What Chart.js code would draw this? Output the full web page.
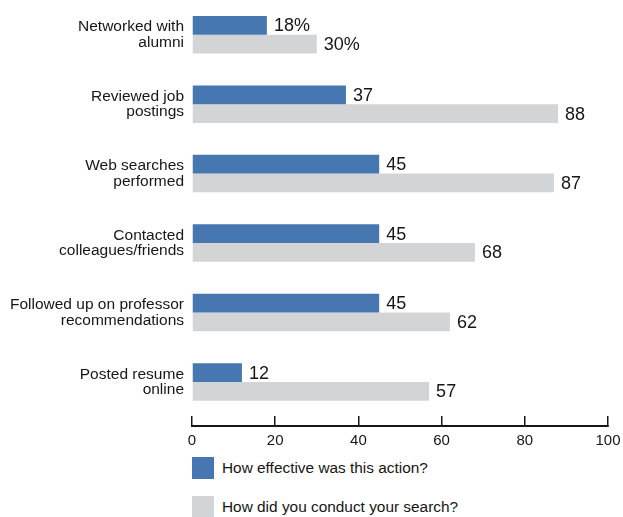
<!DOCTYPE html>
<html>
<head>
<meta charset="utf-8">
<script src="https://cdn.jsdelivr.net/npm/chart.js@4/dist/chart.umd.min.js"></script>
<style>
  body { margin: 0; background: #fff; font-family: "Liberation Sans", Arial, sans-serif; }
  #wrap { position: relative; width: 623px; height: 517px; overflow: hidden; }
  #box { position: absolute; left: 0; top: 0; width: 623px; height: 456px; }
  #legend { position: absolute; left: 192px; top: 457px; }
  .item { display: flex; align-items: center; height: 22px; margin-bottom: 17px; font-size: 15.4px; color: #161616; }
  .swatch { width: 22px; height: 22px; margin-right: 8px; }
</style>
</head>
<body>
<div id="wrap">
  <div id="box"><canvas id="chart"></canvas></div>
  <div id="legend"></div>
</div>
<script>
// categories, top to bottom
const actions = [
    ['Networked with', 'alumni'],
    ['Reviewed job', 'postings'],
    ['Web searches', 'performed'],
    ['Contacted', 'colleagues/friends'],
    ['Followed up on professor', 'recommendations'],
    ['Posted resume', 'online']
];
const effective = [18, 37, 45, 45, 45, 12];
const conducted = [30, 88, 87, 68, 62, 57];
const seriesNames = ['How effective was this action?', 'How did you conduct your search?'];
const xTicks = [0, 20, 40, 60, 80, 100];

const BLUE = '#4677b1';
const GREY = '#d3d4d6';
const INK = '#161616';
const FONT = '"Liberation Sans", Arial, sans-serif';

// numbers printed at the end of each bar (first row gets a percent sign)
const barValueLabels = {
    id: 'barValueLabels',
    afterDatasetsDraw(chart) {
        const ctx = chart.ctx;
        ctx.save();
        ctx.font = '18px ' + FONT;
        ctx.fillStyle = INK;
        ctx.textAlign = 'left';
        ctx.textBaseline = 'middle';
        chart.data.datasets.forEach((ds, di) => {
            chart.getDatasetMeta(di).data.forEach((bar, i) => {
                const v = ds.data[i].x;
                ctx.fillText(v + (i === 0 ? '%' : ''), bar.x + 7, bar.y + 1);
            });
        });
        ctx.restore();
    }
};

const toPoints = vals => vals.map((v, i) => ({ x: v, y: i }));

const chart = new Chart(document.getElementById('chart'), {
    type: 'bar',
    data: {
        datasets: [
            { label: seriesNames[0], data: toPoints(effective), backgroundColor: BLUE },
            { label: seriesNames[1], data: toPoints(conducted), backgroundColor: GREY }
        ]
    },
    options: {
        indexAxis: 'y',
        responsive: true,
        maintainAspectRatio: false,
        animation: false,
        layout: { padding: { top: 0, right: 15, bottom: 0, left: 0 } },
        datasets: {
            bar: { categoryPercentage: 0.54, barPercentage: 1.0 }
        },
        scales: {
            x: {
                type: 'linear',
                position: 'bottom',
                min: 0,
                max: 100,
                afterBuildTicks: s => { s.ticks = xTicks.map(v => ({ value: v })); },
                afterFit: s => { s.height = 30; s.paddingLeft = 0; s.paddingRight = 0; },
                // negative length makes the tick marks point up from the axis line
                grid: { drawOnChartArea: false, drawTicks: true, tickLength: -10, color: INK, lineWidth: 1.5 },
                border: { display: true, color: INK, width: 2 },
                ticks: {
                    padding: 16,
                    color: INK,
                    font: { family: FONT, size: 15 }
                }
            },
            y: {
                // linear index axis so the last row can sit a little above the x axis line
                type: 'linear',
                reverse: true,
                offset: false,
                min: -0.5,
                max: 5.634,
                afterBuildTicks: s => { s.ticks = actions.map((a, i) => ({ value: i })); },
                afterFit: s => { s.width = 192; s.paddingTop = 0; s.paddingBottom = 0; },
                grid: { display: false, drawTicks: false, offset: false },
                border: { display: false },
                ticks: {
                    padding: 8,
                    color: INK,
                    font: { family: FONT, size: 15.5, lineHeight: 1.0 },
                    callback: v => actions[v]
                }
            }
        },
        plugins: {
            legend: { display: false },
            tooltip: { enabled: false }
        }
    },
    plugins: [barValueLabels]
});

// legend below the plot, one entry per row
const legendEl = document.getElementById('legend');
chart.data.datasets.forEach(ds => {
    const row = document.createElement('div');
    row.className = 'item';
    const sw = document.createElement('div');
    sw.className = 'swatch';
    sw.style.background = ds.backgroundColor;
    const txt = document.createElement('span');
    txt.textContent = ds.label;
    row.appendChild(sw);
    row.appendChild(txt);
    legendEl.appendChild(row);
});
</script>
</body>
</html>
